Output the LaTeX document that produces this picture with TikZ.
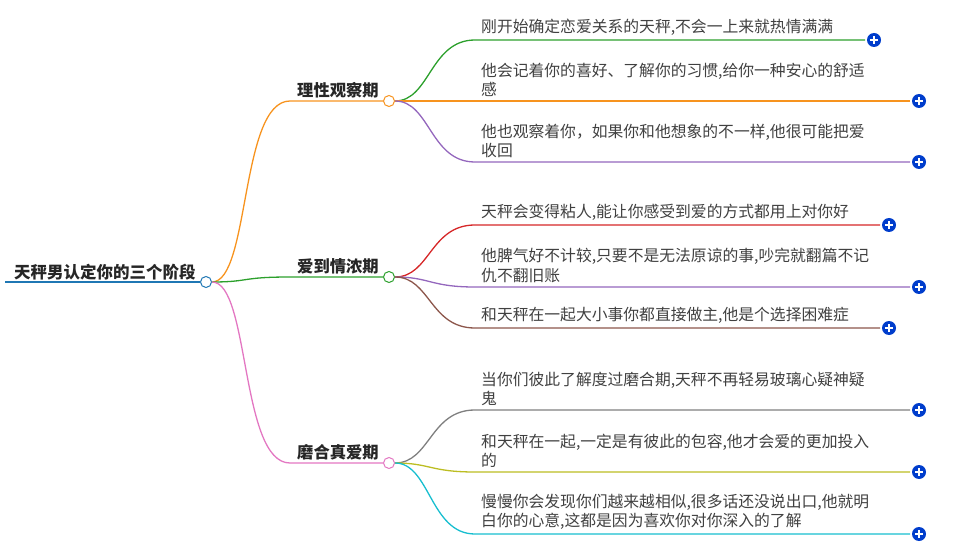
\documentclass[tikz,border=0pt]{standalone}
\usepackage{fontspec}
\setmainfont{Noto Sans CJK SC}
\begin{document}
\begin{tikzpicture}[x=1pt,y=-1pt,
  leaf/.style={anchor=south west,inner sep=0pt,align=left,font=\fontsize{15.8}{19.5}\selectfont,text=black!75},
  br/.style={anchor=south west,inner sep=0pt,font=\fontsize{16.3}{18}\selectfont\bfseries,text=black!85},
  dot/.style={circle,draw,fill=white,line width=1pt,minimum size=11pt,inner sep=0pt},
  plus/.style={circle,fill=blue!70!cyan!80!black,minimum size=14pt,inner sep=0pt,
     path picture={\draw[white,line width=1.4pt] ([xshift=-4pt]path picture bounding box.center)--([xshift=4pt]path picture bounding box.center);
     \draw[white,line width=1.4pt] ([yshift=-4pt]path picture bounding box.center)--([yshift=4pt]path picture bounding box.center);}},
  ln/.style={line width=1.3pt}]
\useasboundingbox (0,0) rectangle (961,553);
\definecolor{cO}{HTML}{F7931E}\definecolor{cG}{HTML}{2CA02C}\definecolor{cP}{HTML}{E377C2}
\definecolor{cV}{HTML}{9467BD}\definecolor{cR}{HTML}{D62728}\definecolor{cB}{HTML}{8C564B}
\definecolor{cY}{HTML}{BCBD22}\definecolor{cC}{HTML}{17BECF}\definecolor{cK}{HTML}{7F7F7F}
\definecolor{cRoot}{HTML}{1F77B4}
% root
\node[br,font=\fontsize{16.5}{18}\selectfont\bfseries] (root) at (14,280) {天秤男认定你的三个阶段};
\draw[cRoot,line width=2.5pt] (5,282) -- (200,282);
\node[dot,draw=cRoot] (r) at (206,282) {};
% branches
\foreach \n/\t/\y/\c in {b1/理性观察期/101/cO, b2/爱到情浓期/277/cG, b3/磨合真爱期/463/cP}{
  \node[br] (\n t) at (297,\y-3) {\t};
  \draw[\c,ln] (r.east) .. controls (250,282) and (240,\y) .. (290,\y) -- (383,\y);
  \node[dot,draw=\c] (\n) at (389,\y) {};
}
% leaves
\foreach \b/\y/\c/\e/\t in {
 b1/40/cG/865/{刚开始确定恋爱关系的天秤,不会一上来就热情满满},
 b1/101/cO/910/{他会记着你的喜好、了解你的习惯,给你一种安心的舒适\\感},
 b1/162/cV/910/{他也观察着你，如果你和他想象的不一样,他很可能把爱\\收回},
 b2/225/cR/880/{天秤会变得粘人,能让你感受到爱的方式都用上对你好},
 b2/287/cV/910/{他脾气好不计较,只要不是无法原谅的事,吵完就翻篇不记\\仇不翻旧账},
 b2/328/cB/880/{和天秤在一起大小事你都直接做主,他是个选择困难症},
 b3/410/cK/910/{当你们彼此了解度过磨合期,天秤不再轻易玻璃心疑神疑\\鬼},
 b3/472/cY/910/{和天秤在一起,一定是有彼此的包容,他才会爱的更加投入\\的},
 b3/534/cC/910/{慢慢你会发现你们越来越相似,很多话还没说出口,他就明\\白你的心意,这都是因为喜欢你对你深入的了解}}{
  \node[leaf] at (481,\y-4) {\t};
  \draw[\c,ln] (\b.east) .. controls (430,0|-\b.east) and (430,\y) .. (475,\y) -- (\e,\y);
  \node[plus] at (\e+9,\y) {};
}
\end{tikzpicture}
\end{document}
